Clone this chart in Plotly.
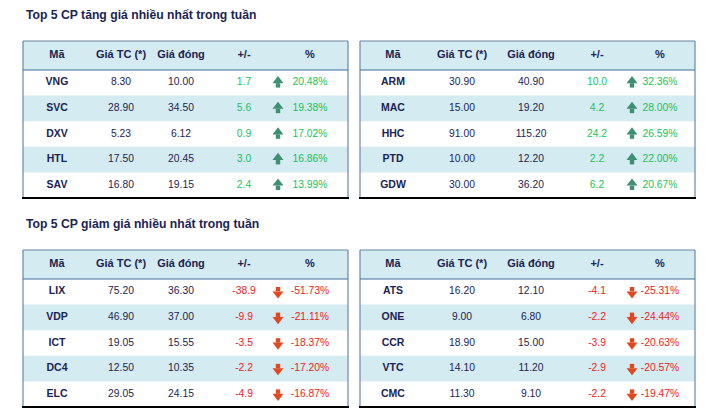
import plotly.graph_objects as go

# --- data -------------------------------------------------------------
headers = ["Mã", "Giá TC (*)", "Giá đóng", "+/-", "%"]
title_up = "Top 5 CP tăng giá nhiều nhất trong tuần"
title_down = "Top 5 CP giảm giá nhiều nhất trong tuần"

up_left_codes = ["VNG", "SVC", "DXV", "HTL", "SAV"]
up_left_ref = [8.30, 28.90, 5.23, 17.50, 16.80]
up_left_close = [10.00, 34.50, 6.12, 20.45, 19.15]
up_left_chg = [1.7, 5.6, 0.9, 3.0, 2.4]
up_left_pct = [20.48, 19.38, 17.02, 16.86, 13.99]

up_right_codes = ["ARM", "MAC", "HHC", "PTD", "GDW"]
up_right_ref = [30.90, 15.00, 91.00, 10.00, 30.00]
up_right_close = [40.90, 19.20, 115.20, 12.20, 36.20]
up_right_chg = [10.0, 4.2, 24.2, 2.2, 6.2]
up_right_pct = [32.36, 28.00, 26.59, 22.00, 20.67]

down_left_codes = ["LIX", "VDP", "ICT", "DC4", "ELC"]
down_left_ref = [75.20, 46.90, 19.05, 12.50, 29.05]
down_left_close = [36.30, 37.00, 15.55, 10.35, 24.15]
down_left_chg = [-38.9, -9.9, -3.5, -2.2, -4.9]
down_left_pct = [-51.73, -21.11, -18.37, -17.20, -16.87]

down_right_codes = ["ATS", "ONE", "CCR", "VTC", "CMC"]
down_right_ref = [16.20, 9.00, 18.90, 14.10, 11.30]
down_right_close = [12.10, 6.80, 15.00, 11.20, 9.10]
down_right_chg = [-4.1, -2.2, -3.9, -2.9, -2.2]
down_right_pct = [-25.31, -24.44, -20.63, -20.57, -19.47]

# --- style / layout ----------------------------------------------------
FONT = "Liberation Sans, Arial, sans-serif"
NAVY = "#1b2452"
GREEN = "#17c35a"
RED = "#ee1c25"
ARROW_UP = "#3f8f73"
ARROW_DOWN = "#e0481f"
SHADE = "#d4ebf1"
EDGE = "#6c87a3"

HEAD_H = 29
ROW_H = 25.6

# left x, right x, top y, column centres and arrow x (relative to left)
tables = [
    dict(codes=up_left_codes, ref=up_left_ref, close=up_left_close,
         chg=up_left_chg, pct=up_left_pct, x0=23, x1=348, top=41,
         cols=[34, 98, 158, 221, 287], arrow=255),
    dict(codes=up_right_codes, ref=up_right_ref, close=up_right_close,
         chg=up_right_chg, pct=up_right_pct, x0=360, x1=695, top=41,
         cols=[33, 102, 171, 237, 300], arrow=272),
    dict(codes=down_left_codes, ref=down_left_ref, close=down_left_close,
         chg=down_left_chg, pct=down_left_pct, x0=23, x1=348, top=250,
         cols=[34, 98, 158, 221, 287], arrow=255),
    dict(codes=down_right_codes, ref=down_right_ref, close=down_right_close,
         chg=down_right_chg, pct=down_right_pct, x0=360, x1=695, top=250,
         cols=[33, 102, 171, 237, 300], arrow=272),
]

fig = go.Figure()
shapes = []
annotations = []

for t in tables:
    x0, x1, top = t["x0"], t["x1"], t["top"]
    bottom = top + HEAD_H + ROW_H * len(t["codes"])
    # header band
    shapes.append(dict(type="rect", x0=x0, x1=x1, y0=top, y1=top + HEAD_H,
                       fillcolor=SHADE, line_width=0, layer="below"))
    # alternating rows
    for i in range(len(t["codes"])):
        if i % 2 == 1:
            y0 = top + HEAD_H + ROW_H * i
            shapes.append(dict(type="rect", x0=x0, x1=x1, y0=y0, y1=y0 + ROW_H,
                               fillcolor=SHADE, line_width=0, layer="below"))
    # borders
    shapes.append(dict(type="line", x0=x0, x1=x1, y0=top, y1=top,
                       line=dict(color=EDGE, width=1.2)))
    shapes.append(dict(type="line", x0=x0, x1=x0, y0=top, y1=bottom,
                       line=dict(color=EDGE, width=1.2)))
    shapes.append(dict(type="line", x0=x1, x1=x1, y0=top, y1=bottom,
                       line=dict(color=EDGE, width=1.2)))
    shapes.append(dict(type="line", x0=x0, x1=x1, y0=top + HEAD_H, y1=top + HEAD_H,
                       line=dict(color="#3f6e9e", width=1)))
    shapes.append(dict(type="line", x0=x0 - 1, x1=x1 + 1, y0=bottom, y1=bottom,
                       line=dict(color="#000000", width=2.2)))

    # header text
    fig.add_trace(go.Scatter(
        x=[x0 + c for c in t["cols"]], y=[top + HEAD_H / 2] * 5,
        mode="text", text=[f"<b>{h}</b>" for h in headers],
        textfont=dict(family=FONT, size=11, color=NAVY),
        hoverinfo="skip", showlegend=False))

    ys = [top + HEAD_H + ROW_H * (i + 0.5) for i in range(len(t["codes"]))]
    n = len(ys)
    cols = t["cols"]
    fig.add_trace(go.Scatter(
        x=[x0 + cols[0]] * n, y=ys, mode="text",
        text=[f"<b>{c}</b>" for c in t["codes"]],
        textfont=dict(family=FONT, size=10.5, color=NAVY),
        hoverinfo="skip", showlegend=False))
    fig.add_trace(go.Scatter(
        x=[x0 + cols[1]] * n, y=ys, mode="text",
        text=[f"{v:.2f}" for v in t["ref"]],
        textfont=dict(family=FONT, size=10.3, color=NAVY),
        hoverinfo="skip", showlegend=False))
    fig.add_trace(go.Scatter(
        x=[x0 + cols[2]] * n, y=ys, mode="text",
        text=[f"{v:.2f}" for v in t["close"]],
        textfont=dict(family=FONT, size=10.3, color=NAVY),
        hoverinfo="skip", showlegend=False))
    chg_colors = [GREEN if v >= 0 else RED for v in t["chg"]]
    fig.add_trace(go.Scatter(
        x=[x0 + cols[3]] * n, y=ys, mode="text",
        text=[f"{v:.1f}" for v in t["chg"]],
        textfont=dict(family=FONT, size=10.3, color=chg_colors),
        hoverinfo="skip", showlegend=False))
    fig.add_trace(go.Scatter(
        x=[x0 + cols[4]] * n, y=ys, mode="text",
        text=[f"{v:.2f}%" for v in t["pct"]],
        textfont=dict(family=FONT, size=10.3, color=chg_colors),
        hoverinfo="skip", showlegend=False))

    # arrows: triangle head + square shaft
    ups = [v >= 0 for v in t["pct"]]
    acol = [ARROW_UP if u else ARROW_DOWN for u in ups]
    ax = [x0 + t["arrow"]] * n
    fig.add_trace(go.Scatter(
        x=ax, y=[y - 2 if u else y + 2 for y, u in zip(ys, ups)], mode="markers",
        marker=dict(symbol=["triangle-up" if u else "triangle-down" for u in ups],
                    size=9.5, color=acol, line_width=0),
        hoverinfo="skip", showlegend=False))
    fig.add_trace(go.Scatter(
        x=ax, y=[y + 2.6 if u else y - 2.6 for y, u in zip(ys, ups)], mode="markers",
        marker=dict(symbol="square", size=4.4, color=acol, line_width=0),
        hoverinfo="skip", showlegend=False))

annotations.append(dict(x=24, y=15, xref="x", yref="y", text=f"<b>{title_up}</b>",
                        showarrow=False, xanchor="left", yanchor="middle",
                        font=dict(family=FONT, size=12.2, color=NAVY)))
annotations.append(dict(x=24, y=224, xref="x", yref="y", text=f"<b>{title_down}</b>",
                        showarrow=False, xanchor="left", yanchor="middle",
                        font=dict(family=FONT, size=12.2, color=NAVY)))

fig.update_layout(
    width=705, height=420,
    margin=dict(l=0, r=0, t=0, b=0),
    paper_bgcolor="white", plot_bgcolor="white",
    xaxis=dict(range=[0, 705], visible=False, fixedrange=True),
    yaxis=dict(range=[420, 0], visible=False, fixedrange=True),
    shapes=shapes, annotations=annotations,
)

fig.write_html("out.html", config={"displayModeBar": False},
               post_script="document.body.style.margin='0';")
